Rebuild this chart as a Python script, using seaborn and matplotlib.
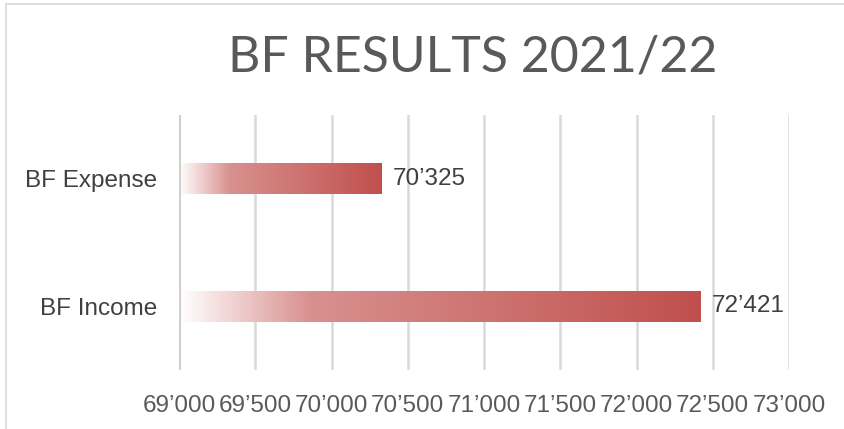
import numpy as np
import pandas as pd
import matplotlib
matplotlib.use("Agg")
import matplotlib.pyplot as plt
from matplotlib.colors import LinearSegmentedColormap
from matplotlib.ticker import FuncFormatter, MultipleLocator
import seaborn as sns

categories = ["BF Expense", "BF Income"]
values = [70325, 72421]
x_min, x_max, x_step = 69000, 73000, 500
title = "BF RESULTS 2021/22"

sns.set_theme(style="white")
plt.rcParams["font.family"] = ["Liberation Sans", "DejaVu Sans"]

def fmt(v):
    return f"{v:,.0f}".replace(",", "\u2019")

df = pd.DataFrame({"category": categories, "value": values})

fig = plt.figure(figsize=(8.44, 4.29), dpi=100)
ax = fig.add_axes([179 / 844, 1 - 370 / 429, 610 / 844, 255 / 429])

sns.barplot(data=df, y="category", x="value", orient="h", width=0.24, ax=ax,
            color="#c0504d", zorder=3)

# swap the flat bars for a white -> red gradient over the visible part
cmap = LinearSegmentedColormap.from_list(
    "grad", [(0, "#ffffff"), (0.08, "#f4dcdc"), (0.25, "#d8918f"), (1, "#c0504d")])
grad = np.linspace(0, 1, 256).reshape(1, -1)
bars = [(p.get_x(), p.get_y(), p.get_width(), p.get_height()) for p in ax.patches]
for p in list(ax.patches):
    p.remove()
for (x0, y0, w, h), v in zip(bars, values):
    start = max(x0, x_min)
    ax.imshow(grad, cmap=cmap, vmin=0, vmax=1, aspect="auto",
              extent=[start, x0 + w, y0 + h, y0], zorder=3, interpolation="bilinear")
    ax.text(v + 75, y0 + h / 2, fmt(v), va="center", ha="left",
            fontsize=17.5, color="#404040", zorder=4)

ax.set_xlim(x_min, x_max)
ax.set_ylim(1.5, -0.5)
ax.xaxis.set_major_locator(MultipleLocator(x_step))
ax.xaxis.set_major_formatter(FuncFormatter(lambda v, p: fmt(v)))
ax.grid(axis="x", color="#d9d9d9", linewidth=1.8, zorder=0)
ax.grid(axis="y", visible=False)
for s in ax.spines.values():
    s.set_visible(False)
ax.axvline(x_min, color="#d0d0d0", linewidth=3, zorder=5)
ax.set_xlabel("")
ax.set_ylabel("")
ax.tick_params(axis="x", labelsize=17.5, labelcolor="#595959", length=0, pad=18)
ax.tick_params(axis="y", labelsize=17.5, labelcolor="#404040", length=0, pad=16)

fig.text(473 / 844, 1 - 58 / 429, title, ha="center", va="center", fontsize=36,
         color="#595959", family=["Lato", "DejaVu Sans"])

fig.patches.append(plt.Rectangle((6 / 844, -0.01), 1.0, 1 - 4 / 429 + 0.01,
                                 transform=fig.transFigure, fill=False,
                                 edgecolor="#d9d9d9", linewidth=1.2))

fig.savefig("out.png", dpi=100)
